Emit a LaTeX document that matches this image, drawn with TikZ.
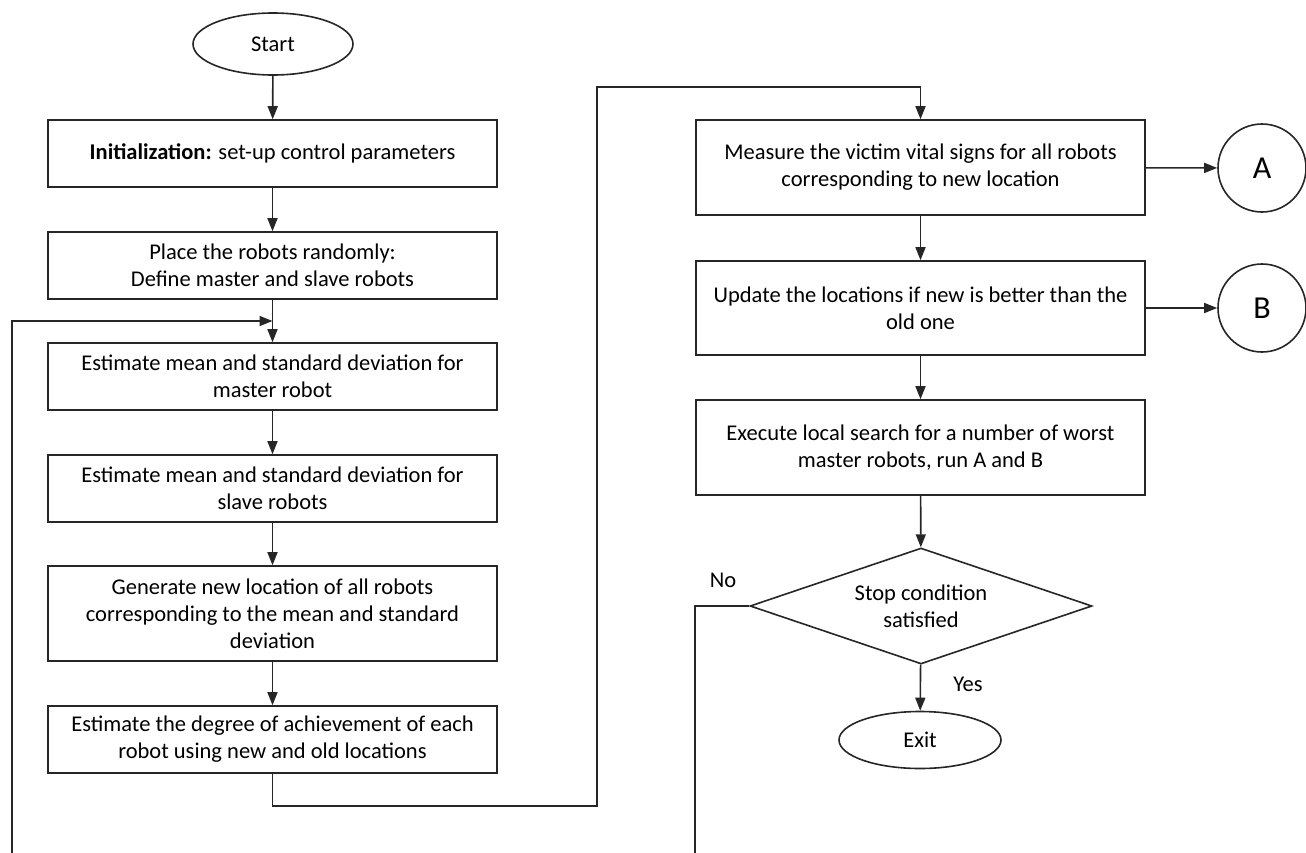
\documentclass[tikz,border=0pt]{standalone}
\usepackage{fontspec}
\setmainfont{Carlito}
\usetikzlibrary{shapes.geometric,arrows.meta,calc}
\begin{document}
\begin{tikzpicture}[x=1pt,y=-1pt,
  line width=1.6pt,
  every node/.style={font=\fontsize{22.5}{27}\selectfont, text=black},
  procbox/.style={draw=black!85, rectangle, minimum width=449pt, align=center, inner sep=0pt},
  terminal/.style={draw=black!85, ellipse, inner sep=0pt},
  connector/.style={draw=black!85, circle, minimum size=88pt, inner sep=0pt, font=\fontsize{32}{32}\selectfont},
  decision/.style={draw=black!85, diamond, aspect=2.95, minimum width=342pt, minimum height=116pt, inner sep=0pt, align=center},
  flow/.style={draw=black!85, -{Triangle[length=13pt,width=10pt]}},
  plain/.style={draw=black!85}
]
\useasboundingbox (0,0) rectangle (1306,852);
\begin{scope}
\clip (0,0) rectangle (1306,852);

% left column
\node[terminal, minimum width=160pt, minimum height=62pt] (start) at (273,44) {Start};
\node[procbox, minimum height=67pt] (init) at (272.5,153.5) {\textbf{Initialization:} set-up control parameters};
\node[procbox, minimum height=67pt] (place) at (272.5,265.5) {Place the robots randomly:\\Define master and slave robots};
\node[procbox, minimum height=67pt] (estm) at (272.5,376.5) {Estimate mean and standard deviation for\\master robot};
\node[procbox, minimum height=67pt] (ests) at (272.5,488.5) {Estimate mean and standard deviation for\\slave robots};
\node[procbox, minimum height=95pt] (gen) at (272.5,613.5) {Generate new location of all robots\\corresponding to the mean and standard\\deviation};
\node[procbox, minimum height=67pt] (deg) at (272.5,739.5) {Estimate the degree of achievement of each\\robot using new and old locations};

% right column
\node[procbox, minimum height=95pt] (measure) at (920.5,167.5) {Measure the victim vital signs for all robots\\corresponding to new location};
\node[procbox, minimum height=94pt] (update) at (920.5,308) {Update the locations if new is better than the\\old one};
\node[procbox, minimum height=95pt] (exec) at (920.5,447.5) {Execute local search for a number of worst\\master robots, run A and B};
\node[decision] (stop) at (921,606) {Stop condition\\satisfied};
\node[terminal, minimum width=162pt, minimum height=57pt] (exit) at (920,740) {Exit};

\node[connector] (A) at (1262,168) {A};
\node[connector] (B) at (1262,308) {B};

\node (no) at (723,580) {No};
\node (yes) at (968,684) {Yes};

% junction points of the routed lines
\coordinate (loopin) at ($(place.south)!0.5!(estm.north)$);
\coordinate (loopbot) at (12,860);
\coordinate (nobot) at (695,860);
\coordinate (lowturn) at (597,806);
\coordinate (highturn) at (597,87);

% straight connections
\draw[flow] (start) -- (init);
\draw[flow] (init) -- (place);
\draw[flow] (place) -- (estm);
\draw[flow] (estm) -- (ests);
\draw[flow] (ests) -- (gen);
\draw[flow] (gen) -- (deg);
\draw[flow] (measure) -- (update);
\draw[flow] (update) -- (exec);
\draw[flow] (exec) -- (stop);
\draw[flow] (stop) -- (exit);
\draw[flow] (measure) -- (A);
\draw[flow] (update) -- (B);

% routed connections
\draw[flow] (deg.south) |- (lowturn) -- (highturn) -| (measure.north);
\draw[flow] (loopbot) |- (loopin);
\draw[plain] (stop.west) -| (nobot);
\end{scope}
\end{tikzpicture}
\end{document}
